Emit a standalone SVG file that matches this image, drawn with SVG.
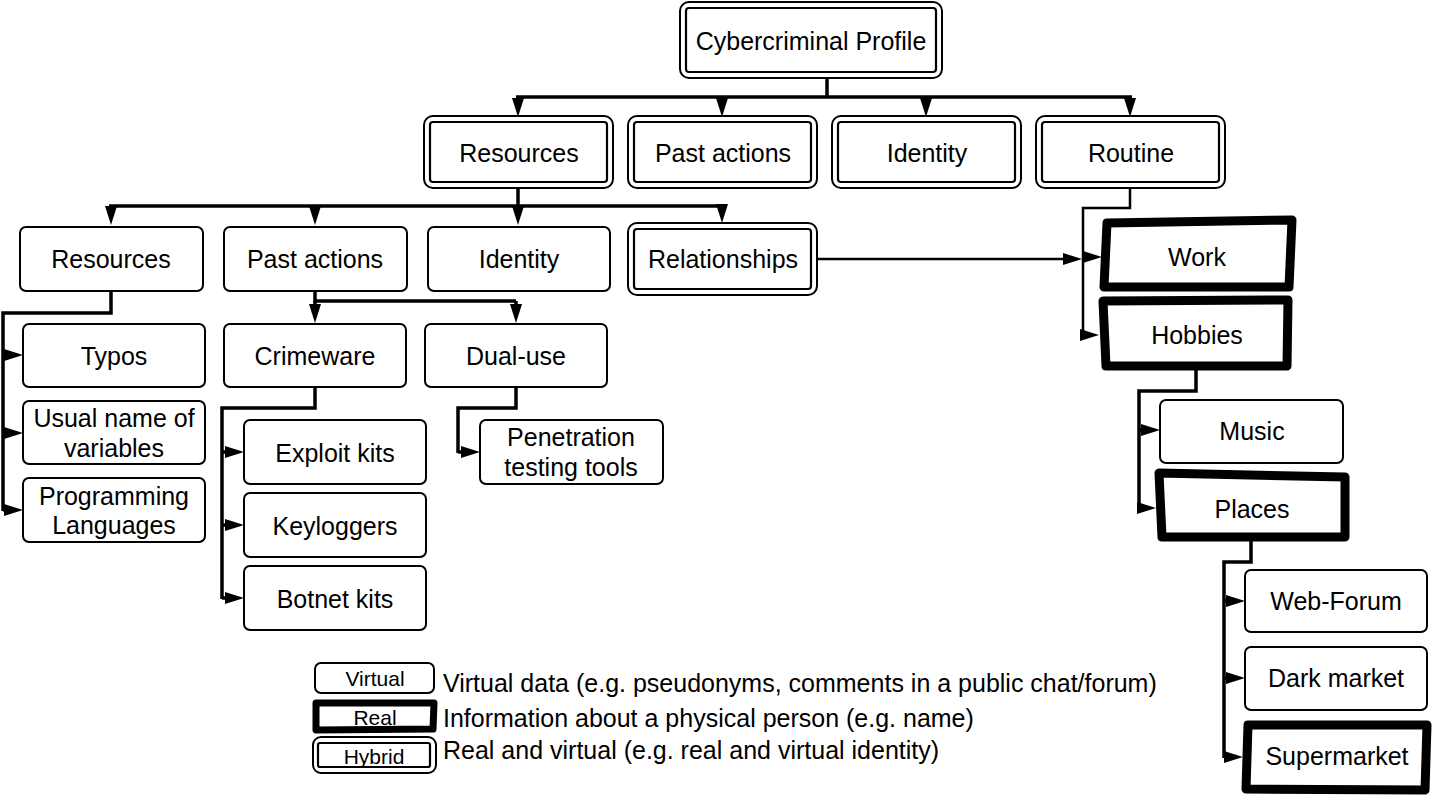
<svg xmlns="http://www.w3.org/2000/svg" width="1436" height="799" viewBox="0 0 1436 799">
<defs>
<style>
text{font-family:"Liberation Sans",Arial,Helvetica,sans-serif;font-size:25px;fill:#000;text-anchor:middle}
.lt{text-anchor:start}
.sm{font-size:21px}
.v{fill:#fff;stroke:#000;stroke-width:2}
.ho{fill:#fff;stroke:#000;stroke-width:2}
.hi{fill:none;stroke:#000;stroke-width:2.2}
.r{fill:#fff;stroke:#000;stroke-width:9;stroke-linejoin:round;stroke-linecap:round}
.c{fill:none;stroke:#000;stroke-width:3.5;stroke-linejoin:miter}
.a{fill:none;stroke:#000;stroke-width:3.5;marker-end:url(#ah)}
.t{fill:none;stroke:#000;stroke-width:2.5}
.at{fill:none;stroke:#000;stroke-width:2.5;marker-end:url(#ah)}
</style>
<marker id="ah" markerUnits="userSpaceOnUse" markerWidth="20" markerHeight="14" refX="11" refY="6.5" orient="auto">
<path d="M0,0.5 L19,6.5 L0,12.5 Z" fill="#000"/>
</marker>
</defs>
<rect width="1436" height="799" fill="#fff"/>

<g id="connectors">
<path class="c" d="M827,78 V97 M516,97 H1132"/>
<path class="a" d="M518,97 V109"/>
<path class="a" d="M722,97 V109"/>
<path class="a" d="M926,97 V109"/>
<path class="a" d="M1130,97 V109"/>
<path class="c" d="M518,188 V206 M109,206 H724"/>
<path class="a" d="M111,206 V217"/>
<path class="a" d="M315,206 V217"/>
<path class="a" d="M518,206 V217"/>
<path class="a" d="M722,206 V215"/>
<path class="at" d="M818,259 H1074"/>
<path class="t" d="M1130,188 V208 H1083 V336"/>
<path class="at" d="M1083,257 H1094"/>
<path class="at" d="M1083,335 H1091"/>
<path class="c" d="M1196,370 V391 H1139 V509"/>
<path class="a" d="M1139,430 H1152"/>
<path class="a" d="M1139,508 H1148"/>
<path class="c" d="M1251,541 V562 H1224 V758"/>
<path class="a" d="M1224,601 H1237"/>
<path class="a" d="M1224,678 H1237"/>
<path class="a" d="M1224,757 H1235"/>
<path class="c" d="M111,291 V313 H3 V511"/>
<path class="a" d="M3,355 H15"/>
<path class="a" d="M3,433 H15"/>
<path class="a" d="M3,510 H15"/>
<path class="c" d="M315,291 V301 H516"/>
<path class="a" d="M315,301 V315"/>
<path class="a" d="M516,301 V315"/>
<path class="c" d="M315,387 V408 H222 V599"/>
<path class="a" d="M222,452 H236"/>
<path class="a" d="M222,525 H236"/>
<path class="a" d="M222,598 H236"/>
<path class="c" d="M516,387 V408 H458 V453"/>
<path class="a" d="M458,452 H472"/>
</g>

<g id="n-profile">
<rect class="ho" x="680" y="2" width="262" height="76" rx="9"/>
<rect class="hi" x="686" y="8" width="250" height="64" rx="3"/>
<text x="811" y="50">Cybercriminal Profile</text>
</g>

<g id="n-resources1">
<rect class="ho" x="424" y="116" width="189" height="72" rx="9"/>
<rect class="hi" x="430" y="122" width="177" height="60" rx="3"/>
<text x="519" y="162">Resources</text>
</g>
<g id="n-pastactions1">
<rect class="ho" x="628" y="116" width="189" height="72" rx="9"/>
<rect class="hi" x="634" y="122" width="177" height="60" rx="3"/>
<text x="723" y="162">Past actions</text>
</g>
<g id="n-identity1">
<rect class="ho" x="832" y="116" width="189" height="72" rx="9"/>
<rect class="hi" x="838" y="122" width="177" height="60" rx="3"/>
<text x="927" y="162">Identity</text>
</g>
<g id="n-routine">
<rect class="ho" x="1036" y="116" width="189" height="72" rx="9"/>
<rect class="hi" x="1042" y="122" width="177" height="60" rx="3"/>
<text x="1131" y="162">Routine</text>
</g>

<g id="n-resources2">
<rect class="v" x="20" y="227" width="183" height="64" rx="6"/>
<text x="111" y="268">Resources</text>
</g>
<g id="n-pastactions2">
<rect class="v" x="224" y="227" width="183" height="64" rx="6"/>
<text x="315" y="268">Past actions</text>
</g>
<g id="n-identity2">
<rect class="v" x="428" y="227" width="182" height="64" rx="6"/>
<text x="519" y="268">Identity</text>
</g>
<g id="n-relationships">
<rect class="ho" x="628" y="223" width="189" height="72" rx="9"/>
<rect class="hi" x="634" y="229" width="177" height="60" rx="3"/>
<text x="723" y="268">Relationships</text>
</g>

<g id="n-typos">
<rect class="v" x="23" y="324" width="182" height="63" rx="6"/>
<text x="114" y="365">Typos</text>
</g>
<g id="n-usualname">
<rect class="v" x="23" y="401" width="182" height="63" rx="6"/>
<text x="114" y="427">Usual name of</text>
<text x="114" y="457">variables</text>
</g>
<g id="n-proglang">
<rect class="v" x="23" y="478" width="182" height="64" rx="6"/>
<text x="114" y="505">Programming</text>
<text x="114" y="534">Languages</text>
</g>

<g id="n-crimeware">
<rect class="v" x="224" y="324" width="182" height="63" rx="6"/>
<text x="315" y="365">Crimeware</text>
</g>
<g id="n-dualuse">
<rect class="v" x="425" y="324" width="182" height="63" rx="6"/>
<text x="516" y="365">Dual-use</text>
</g>
<g id="n-exploit">
<rect class="v" x="244" y="420" width="182" height="64" rx="6"/>
<text x="335" y="462">Exploit kits</text>
</g>
<g id="n-keyloggers">
<rect class="v" x="244" y="493" width="182" height="64" rx="6"/>
<text x="335" y="535">Keyloggers</text>
</g>
<g id="n-botnet">
<rect class="v" x="244" y="566" width="182" height="64" rx="6"/>
<text x="335" y="608">Botnet kits</text>
</g>
<g id="n-pentest">
<rect class="v" x="480" y="420" width="183" height="64" rx="6"/>
<text x="571" y="446">Penetration</text>
<text x="571" y="476">testing tools</text>
</g>

<g id="n-work">
<path class="r" d="M1107,223 L1292,220 L1289,287 L1104,287 Z"/>
<text x="1197" y="266">Work</text>
</g>
<g id="n-hobbies">
<path class="r" d="M1103,301 L1288,300 L1287,366 L1106,366 Z"/>
<text x="1197" y="344">Hobbies</text>
</g>
<g id="n-music">
<rect class="v" x="1160" y="400" width="183" height="63" rx="6"/>
<text x="1252" y="440">Music</text>
</g>
<g id="n-places">
<path class="r" d="M1159,473 L1345,477 L1345,537 L1162,537 Z"/>
<text x="1252" y="518">Places</text>
</g>
<g id="n-webforum">
<rect class="v" x="1245" y="570" width="182" height="62" rx="6"/>
<text x="1336" y="610">Web-Forum</text>
</g>
<g id="n-darkmarket">
<rect class="v" x="1245" y="647" width="182" height="63" rx="6"/>
<text x="1336" y="687">Dark market</text>
</g>
<g id="n-supermarket">
<path class="r" d="M1248,725 L1427,725 L1425,790 L1246,789 Z"/>
<text x="1337" y="765">Supermarket</text>
</g>

<g id="legend">
<rect class="v" x="315" y="663" width="119" height="30" rx="6"/>
<text class="sm" x="375" y="686">Virtual</text>
<path fill="#fff" stroke="#000" stroke-width="7" stroke-linejoin="round" d="M316,703 L434,703 L433,729 L316,730 Z"/>
<text class="sm" x="375" y="725">Real</text>
<rect class="ho" x="313" y="737" width="123" height="36" rx="8"/>
<rect class="hi" x="318" y="743" width="112" height="24" rx="2"/>
<text class="sm" x="374" y="764">Hybrid</text>
<text class="lt" x="443" y="692">Virtual data (e.g. pseudonyms, comments in a public chat/forum)</text>
<text class="lt" x="443" y="727">Information about a physical person (e.g. name)</text>
<text class="lt" x="443" y="759">Real and virtual (e.g. real and virtual identity)</text>
</g>
</svg>
